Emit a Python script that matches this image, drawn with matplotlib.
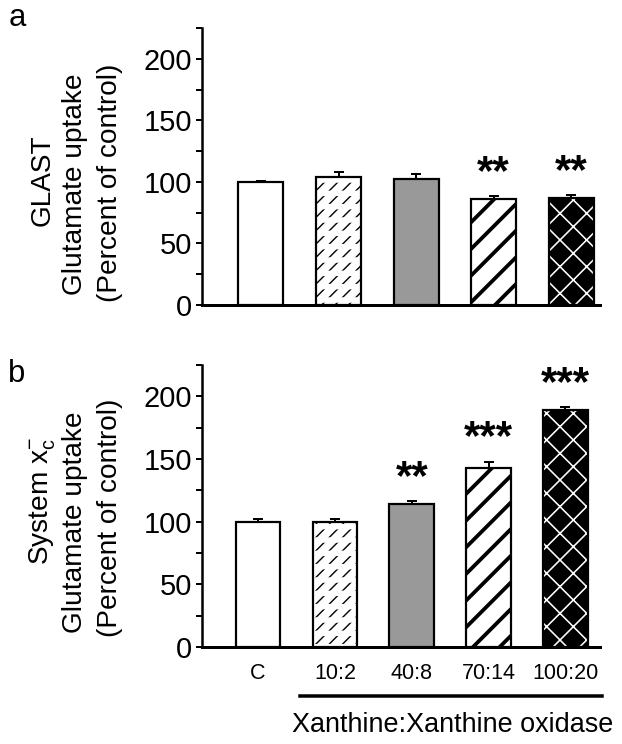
import numpy as np
import matplotlib
matplotlib.use("Agg")
import matplotlib.pyplot as plt
from matplotlib.lines import Line2D
from matplotlib.ticker import MultipleLocator

# data
categories = ["C", "10:2", "40:8", "70:14", "100:20"]
glast_mean = [100, 104, 102.5, 86, 87]
glast_sem = [1, 4, 4, 2.5, 2]
glast_sig = ["", "", "", "**", "**"]
xc_mean = [100, 100, 114, 143, 189]
xc_sem = [2.5, 2.5, 2.7, 5, 2.5]
xc_sig = ["", "", "**", "***", "***"]

DPI = 80
W, H = 622, 744


def px(v):
    """pixels -> points"""
    return v * 72.0 / DPI


def fx(x):
    return x / W


def fy(y):
    return 1 - y / H


plt.rcParams["font.family"] = ["Liberation Sans", "DejaVu Sans"]
plt.rcParams["mathtext.default"] = "regular"

# bar styles: base fill, hatch overlays (pattern, colour, linewidth px)
styles = [
    dict(fc="white", layers=[]),
    dict(fc="white", layers=[("//", "black", 1.4), ("-", "white", 5.5)]),
    dict(fc="#999999", layers=[]),
    dict(fc="white", layers=[("/", "black", 3.8)]),
    dict(fc="black", layers=[("x", "white", 1.6)]),
]


def draw_panel(ax, means, sems, sig, xlim):
    x = np.arange(len(means))
    width = 0.58
    for i, st in enumerate(styles):
        ax.bar(x[i], means[i], width, color=st["fc"], lw=0, zorder=2)
        for k, (hatch, col, hlw) in enumerate(st["layers"]):
            plt.rcParams["hatch.linewidth"] = px(hlw)
            b = ax.bar(x[i], means[i], width, facecolor="none", edgecolor=col,
                       hatch=hatch, lw=0, zorder=2.1 + k * 0.01)
            for p in b:
                if hasattr(p, "set_hatch_linewidth"):
                    p.set_hatch_linewidth(px(hlw))
        ax.bar(x[i], means[i], width, facecolor="none", edgecolor="black",
               lw=px(2.2), zorder=2.5)
    ax.errorbar(x, means, yerr=[np.zeros(len(sems)), sems], fmt="none",
                ecolor="black", elinewidth=px(2), capsize=px(5),
                capthick=px(2), zorder=3)
    for xi, m, s, lab in zip(x, means, sems, sig):
        if lab:
            ax.annotate(lab, (xi, m + s), xytext=(0, px(43)),
                        textcoords="offset points", ha="center", va="top",
                        fontsize=px(42), fontweight="bold",
                        annotation_clip=False)
    ax.set_ylim(0, 225)
    ax.set_xlim(*xlim)
    ax.yaxis.set_major_locator(MultipleLocator(50))
    ax.yaxis.set_minor_locator(MultipleLocator(25))
    ax.tick_params(axis="y", which="both", direction="out", length=px(6),
                   width=px(2), labelsize=px(29), pad=px(4))
    ax.spines["top"].set_visible(False)
    ax.spines["right"].set_visible(False)
    ax.spines["left"].set_linewidth(px(2.5))
    ax.spines["bottom"].set_linewidth(px(3))
    ax.set_xticks(x)


fig = plt.figure(figsize=(W / DPI, H / DPI), dpi=DPI)

ax_a = fig.add_axes([fx(202), fy(305), fx(600) - fx(202), fy(28) - fy(305)])
draw_panel(ax_a, glast_mean, glast_sem, glast_sig, (-0.76, 4.37))
ax_a.tick_params(axis="x", length=0, labelbottom=False)

ax_b = fig.add_axes([fx(202), fy(647), fx(600) - fx(202), fy(365) - fy(647)])
draw_panel(ax_b, xc_mean, xc_sem, xc_sig, (-0.73, 4.45))
ax_b.set_xticklabels(categories)
ax_b.tick_params(axis="x", length=0, labelsize=px(21.5), pad=px(16))

# y labels (three stacked lines)
lab_fs = px(28)
fig.text(fx(43), fy(180), "GLAST", rotation=90, ha="center", va="center", fontsize=lab_fs)
fig.text(fx(75), fy(184), "Glutamate uptake", rotation=90, ha="center", va="center", fontsize=lab_fs)
fig.text(fx(110), fy(183), "(Percent of control)", rotation=90, ha="center", va="center", fontsize=lab_fs)

fig.text(fx(43), fy(501), r"System x$_c^{-}$", rotation=90, ha="center", va="center", fontsize=lab_fs)
fig.text(fx(75), fy(522), "Glutamate uptake", rotation=90, ha="center", va="center", fontsize=lab_fs)
fig.text(fx(110), fy(518), "(Percent of control)", rotation=90, ha="center", va="center", fontsize=lab_fs)

# panel letters
fig.text(fx(17), fy(18), "a", ha="center", va="center", fontsize=px(31))
fig.text(fx(17), fy(374), "b", ha="center", va="center", fontsize=px(31))

# treatment bracket under the x:xo groups
fig.add_artist(Line2D([fx(300), fx(602)], [fy(696), fy(696)],
                      transform=fig.transFigure, color="black", lw=px(3.5)))
fig.text(fx(453), fy(725), "Xanthine:Xanthine oxidase", ha="center", va="center",
         fontsize=px(27))

fig.savefig("out.png", dpi=DPI)
